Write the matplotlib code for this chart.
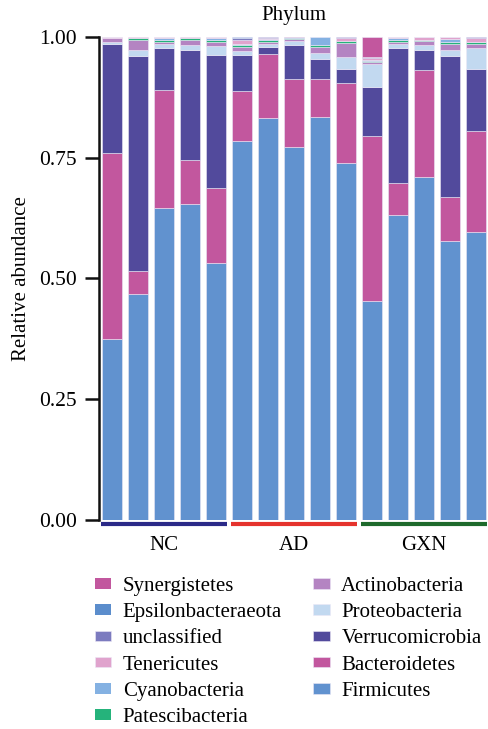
import matplotlib.pyplot as plt
import numpy as np

# samples: 5 per group
samples = ['NC1', 'NC2', 'NC3', 'NC4', 'NC5',
           'AD1', 'AD2', 'AD3', 'AD4', 'AD5',
           'GXN1', 'GXN2', 'GXN3', 'GXN4', 'GXN5']
groups = ['NC', 'AD', 'GXN']
group_colors = ['#2b2a88', '#e5332d', '#1e6a2c']

# relative abundance per phylum (bottom to top of the stack)
firmicutes      = [0.375, 0.467, 0.645, 0.655, 0.533, 0.785, 0.833, 0.773, 0.835, 0.740, 0.453, 0.632, 0.710, 0.578, 0.597]
bacteroidetes   = [0.385, 0.048, 0.245, 0.090, 0.155, 0.103, 0.132, 0.140, 0.077, 0.165, 0.342, 0.066, 0.222, 0.090, 0.208]
verrucomicrobia = [0.226, 0.446, 0.087, 0.227, 0.274, 0.075, 0.015, 0.070, 0.043, 0.029, 0.102, 0.279, 0.041, 0.292, 0.129]
proteobacteria  = [0.004, 0.012, 0.008, 0.012, 0.020, 0.008, 0.006, 0.008, 0.012, 0.025, 0.048, 0.008, 0.010, 0.014, 0.043]
actinobacteria  = [0.007, 0.020, 0.004, 0.010, 0.008, 0.008, 0.004, 0.005, 0.012, 0.029, 0.004, 0.004, 0.008, 0.012, 0.008]
patescibacteria = [0.000, 0.004, 0.004, 0.004, 0.004, 0.005, 0.004, 0.002, 0.004, 0.004, 0.001, 0.005, 0.002, 0.004, 0.004]
cyanobacteria   = [0.000, 0.000, 0.004, 0.000, 0.004, 0.002, 0.001, 0.001, 0.017, 0.000, 0.003, 0.003, 0.001, 0.005, 0.001]
tenericutes     = [0.002, 0.003, 0.002, 0.002, 0.001, 0.008, 0.003, 0.002, 0.000, 0.005, 0.003, 0.002, 0.005, 0.004, 0.008]
unclassified    = [0.001, 0.000, 0.001, 0.000, 0.001, 0.004, 0.002, 0.000, 0.000, 0.003, 0.002, 0.001, 0.001, 0.001, 0.001]
epsilon         = [0.000, 0.000, 0.000, 0.000, 0.000, 0.001, 0.000, 0.000, 0.000, 0.000, 0.000, 0.000, 0.000, 0.000, 0.000]
synergistetes   = [0.000, 0.000, 0.000, 0.000, 0.000, 0.000, 0.000, 0.000, 0.000, 0.000, 0.042, 0.000, 0.000, 0.000, 0.000]

phyla = ['Firmicutes', 'Bacteroidetes', 'Verrucomicrobia', 'Proteobacteria',
         'Actinobacteria', 'Patescibacteria', 'Cyanobacteria', 'Tenericutes',
         'unclassified', 'Epsilonbacteraeota', 'Synergistetes']
values = [firmicutes, bacteroidetes, verrucomicrobia, proteobacteria,
          actinobacteria, patescibacteria, cyanobacteria, tenericutes,
          unclassified, epsilon, synergistetes]
colors = ['#6192cf', '#c2579e', '#524a9c', '#c2d9f0',
          '#b484c2', '#25b37b', '#84b1e2', '#e0a3cd',
          '#7c7bbf', '#5b8dcc', '#c2579e']

plt.rcParams['font.family'] = ['Liberation Serif', 'DejaVu Serif']
fs = 15

fig = plt.figure(figsize=(4.89, 7.29), dpi=100)
ax = fig.add_axes([0.2025, 0.2867, 0.7975, 0.6626])

x = np.arange(len(samples))
bottom = np.zeros(len(samples))
handles = []
for name, vals, c in zip(phyla, values, colors):
    vals = np.array(vals)
    # no outline on empty segments
    lw = np.where(vals > 0, 0.4, 0.0)
    b = ax.bar(x, vals, width=0.78, bottom=bottom, color=c,
               edgecolor='#ece8f6', linewidth=lw, label=name)
    handles.append(b)
    bottom += vals

ax.set_xlim(-0.5, len(samples) - 0.5)
ax.set_ylim(0, 1)
ax.set_yticks([0, 0.25, 0.5, 0.75, 1.0])
ax.set_yticklabels(['0.00', '0.25', '0.50', '0.75', '1.00'])
ax.tick_params(axis='y', length=10, width=1.8, labelsize=15.5, pad=6, color='#111111')
ax.set_xticks([])
for s in ['top', 'right', 'bottom']:
    ax.spines[s].set_visible(False)
ax.spines['left'].set_linewidth(1.8)
ax.spines['left'].set_color('#111111')
ax.set_ylabel('Relative abundance', fontsize=fs, labelpad=6)
ax.set_title('Phylum', fontsize=fs, pad=12)

# group underlines and labels
for i, (g, gc) in enumerate(zip(groups, group_colors)):
    x0, x1 = i * 5 - 0.42, i * 5 + 4.42
    ax.plot([x0, x1], [-0.009, -0.009], color=gc, lw=3,
            solid_capstyle='butt', clip_on=False)
    ax.text(i * 5 + 2, -0.033, g, ha='center', va='top', fontsize=fs)

leg = fig.legend(handles[::-1], phyla[::-1], ncol=2, loc='upper left',
                 bbox_to_anchor=(0.155, 0.2346), frameon=False, fontsize=fs,
                 handlelength=0.8, handleheight=0.4, handletextpad=0.55,
                 columnspacing=1.5, labelspacing=0.35)

fig.savefig('out.png', dpi=100)
